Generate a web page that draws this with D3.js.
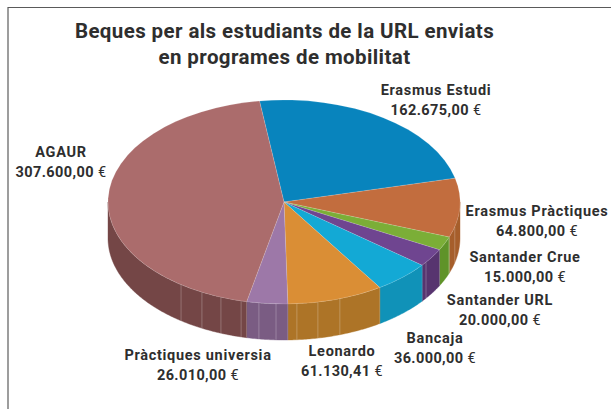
<!DOCTYPE html>
<html><head><meta charset="utf-8">
<script src="https://cdn.jsdelivr.net/npm/d3@7"></script>
<style>html,body{margin:0;padding:0;background:#fff}svg{display:block}
text{font-family:Roboto,"Open Sans",sans-serif;fill:#2e2e2e;font-weight:700}
.eur{font-weight:400}</style></head><body>
<script>
const categories=["Erasmus Estudi","Erasmus Pràctiques","Santander Crue","Santander URL","Bancaja","Leonardo","Pràctiques universia","AGAUR"];
const values=[162675,64800,15000,20000,36000,61130.41,26010,307600];
const valueLabels=["162.675,00","64.800,00","15.000,00","20.000,00","36.000,00","61.130,41","26.010,00","307.600,00"];
const topColors=["#0884bd","#c26d3e","#7bae37","#6f4590","#13a9d5","#da8e35","#9d78a8","#ab6c6c"];
const sideColors=["#06648f","#a65e2b","#5f9329","#57346f","#1092b8","#ad7427","#7a5c83","#744646"];
const titleLines=["Beques per als estudiants de la URL enviats","en programes de mobilitat"];
const facetDegrees=[-35.8,-27.8,-21,-14.1,-8.2,-2.6,4.2,11.1,18.5,53.8,69.6,76];
const labelX=[436,537,525,500,435,342,198,61];
const labelY=[95,216,262,305,343,356,360,157];

const W=611,H=409,cx=284,cy=202,rx=176,ry=102,depth=36;
const svg=d3.select("body").append("svg").attr("width",W).attr("height",H);
svg.append("line").attr("x1",8).attr("x2",8).attr("y1",7).attr("y2",409).attr("stroke","#858585").attr("stroke-width",1.6);
svg.append("line").attr("x1",8).attr("x2",611).attr("y1",7.5).attr("y2",7.5).attr("stroke","#5a5a5a").attr("stroke-width",1.2);

const pie=d3.pie().sort(null).startAngle(-8*Math.PI/180).endAngle(352*Math.PI/180);
const arcs=pie(values);
const px=a=>cx+rx*Math.sin(a), py=a=>cy-ry*Math.cos(a);

const sideG=svg.append("g");
arcs.forEach((d,i)=>{
  const a0=Math.max(d.startAngle,Math.PI/2), a1=Math.min(d.endAngle,3*Math.PI/2);
  if(a1<=a0) return;
  const steps=d3.range(a0,a1,0.01).concat([a1]);
  const pts=steps.map(a=>[px(a),py(a)]).concat(steps.slice().reverse().map(a=>[px(a),py(a)+depth]));
  sideG.append("path").attr("d",d3.line()(pts)+"Z").attr("fill",sideColors[i]).attr("stroke",sideColors[i]).attr("stroke-width",0.4);
});
facetDegrees.forEach(deg=>{
  const a=Math.PI-deg*Math.PI/180;
  sideG.append("line").attr("x1",px(a)).attr("x2",px(a)).attr("y1",py(a)).attr("y2",py(a)+depth)
   .attr("stroke","#fff").attr("stroke-opacity",0.3).attr("stroke-width",0.8);
});
arcs.forEach(d=>{
  const a=d.startAngle;
  if(a>Math.PI/2&&a<3*Math.PI/2) sideG.append("line").attr("x1",px(a)).attr("x2",px(a)).attr("y1",py(a)).attr("y2",py(a)+depth).attr("stroke","#fff").attr("stroke-opacity",0.25).attr("stroke-width",0.5);
});
const arc=d3.arc().innerRadius(0).outerRadius(rx);
const topG=svg.append("g").attr("transform",`translate(${cx},${cy}) scale(1,${ry/rx})`);
topG.selectAll("path").data(arcs).join("path").attr("d",arc)
  .attr("fill",(d,i)=>topColors[i]).attr("stroke","#ffffff").attr("stroke-opacity",0.35).attr("stroke-width",0.5);

titleLines.forEach((t,i)=>svg.append("text").attr("x",284.5).attr("y",38+i*26).attr("text-anchor","middle").attr("font-size",20.5).attr("letter-spacing",0.4).text(t));
categories.forEach((c,i)=>{
  const t=svg.append("g");
  t.append("text").attr("x",labelX[i]).attr("y",labelY[i]).attr("text-anchor","middle").attr("font-size",14.5).attr("letter-spacing",0.7).text(c);
  const v=t.append("text").attr("x",labelX[i]).attr("y",labelY[i]+20).attr("text-anchor","middle").attr("font-size",14.5).attr("letter-spacing",0.4);
  v.append("tspan").text(valueLabels[i]);
  v.append("tspan").attr("class","eur").text(" €");
});
</script></body></html>
